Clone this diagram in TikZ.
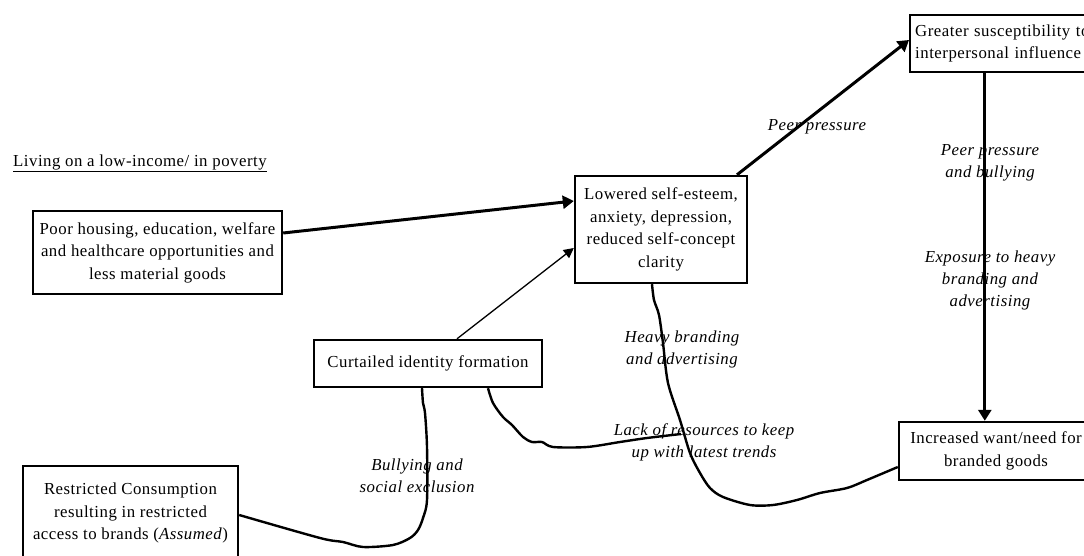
\documentclass[tikz,border=0pt]{standalone}
\usepackage{fontspec}
\setmainfont{Liberation Serif}[LetterSpace=3]
\usetikzlibrary{arrows.meta}
\tikzset{
  box/.style={draw, line width=2.4pt, align=center, inner sep=3pt, font=\fontsize{16.8}{22.5}\selectfont},
  lbl/.style={align=center, inner sep=0pt, font=\fontsize{16.8}{22}\selectfont\itshape},
  thickarrow/.style={line width=3pt, -{Triangle[length=11pt,width=13pt]}},
  thinarrow/.style={line width=1.3pt, -{Triangle[length=10pt,width=10pt]}},
  wavy/.style={line width=2.4pt, line join=round},
}
\begin{document}
\begin{tikzpicture}[x=1pt,y=-1pt]
\useasboundingbox (0,0) rectangle (1084,556);
\clip (0,0) rectangle (1084,556);
\fill[white] (0,0) rectangle (1084,556);

\node[inner sep=0pt, anchor=west, font=\fontsize{16.8}{18}\selectfont] (living) at (13,163) {\underline{Living on a low-income/ in poverty}};

\node[box, minimum width=249pt, minimum height=83pt] (poor) at (157.5,252.5)
  {Poor housing, education, welfare\\and healthcare opportunities and\\less material goods};
\node[box, minimum width=172pt, minimum height=107pt] (low) at (661,229.5)
  {Lowered self-esteem,\\anxiety, depression,\\reduced self-concept\\clarity};
\node[box, minimum width=186pt, minimum height=57pt, align=left, text width=190pt, inner sep=5pt, anchor=west] (greater) at (909,43.5)
  {Greater susceptibility to\\interpersonal influence};
\node[box, minimum width=194pt, minimum height=58pt] (incr) at (996,451)
  {Increased want/need for\\branded goods};
\node[box, minimum width=228pt, minimum height=47pt] (curt) at (428,363.5)
  {Curtailed identity formation};
\node[box, minimum width=215pt, minimum height=94pt] (restr) at (130.5,513)
  {Restricted Consumption\\resulting in restricted\\access to brands (\textit{Assumed})};

% connectors
\draw[thickarrow] ([yshift=19.5pt]poor.east) -- ([yshift=28.5pt]low.west);
\draw[thinarrow] ([xshift=29pt]curt.north) -- ([yshift=-18.5pt]low.west);
\draw[thickarrow] ([xshift=76pt]low.north) -- ([yshift=3.5pt]greater.west);
\draw[thickarrow] (greater.south west -| incr.north west) ++(87pt,0) coordinate (gs) (gs) -- (gs |- incr.north);

\draw[wavy] plot[smooth, tension=0.5] coordinates {([xshift=-9pt]low.south) (654,300) (659,315) (663,343) (668,383) (680,420) (690,453) (700,473) (710,488) (723,497) (750,505) (773,505) (797,500) (820,493) (847,488) (867,480) ([yshift=-16pt]incr.west)};

\coordinate (j1) at (681,434);
\draw[wavy] plot[smooth, tension=0.5] coordinates {([xshift=60pt]curt.south) (493,403) (503,417) (512,425) (523,437) (532,442) (542,442) (553,447) (587,447) (620,442) (647,438) (j1)};

\draw[wavy] plot[smooth, tension=0.5] coordinates {([yshift=-2pt]restr.east) (320,538) (343,542) (363,547) (393,545) (410,538) (418,530) (423,518) (427,500) (427,447) (425,413) (423,403) ([xshift=-6pt]curt.south)};

% labels
\node[lbl] (l1) at (817,127) {Peer pressure};
\node[lbl] (l2) at (990,163) {Peer pressure\\and bullying};
\node[lbl] (l3) at (990,280) {Exposure to heavy\\branding and\\advertising};
\node[lbl] (l4) at (682,349) {Heavy branding\\and advertising};
\node[lbl] (l5) at (704,442) {Lack of resources to keep\\up with latest trends};
\node[lbl] (l6) at (417,476) {Bullying and\\social exclusion};
\end{tikzpicture}
\end{document}
